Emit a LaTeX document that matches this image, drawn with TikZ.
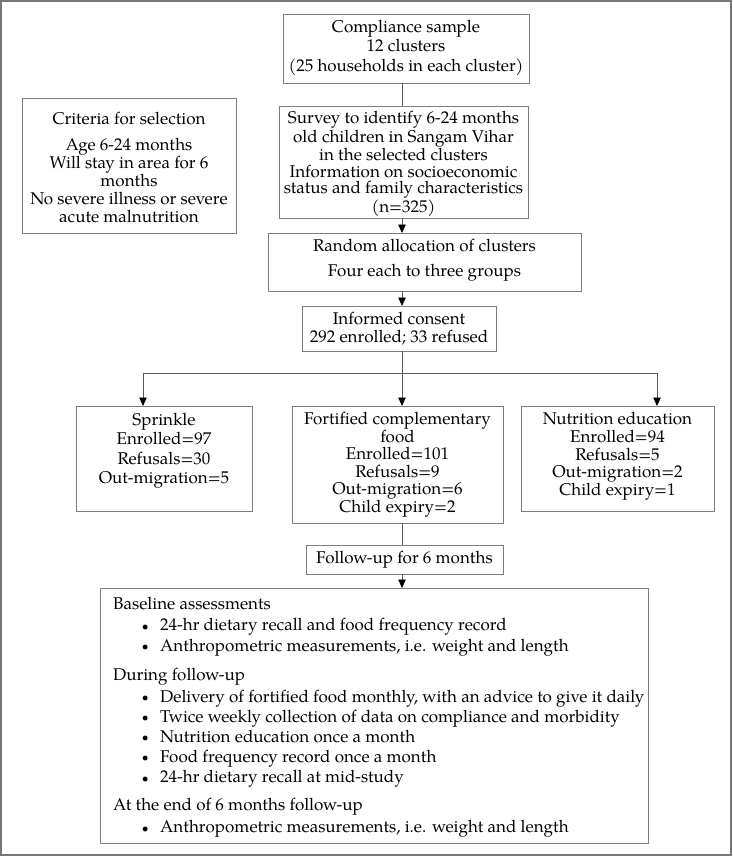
\documentclass[tikz,border=0pt]{standalone}
\usepackage{fontspec}
\setmainfont{TeX Gyre Pagella}
\usetikzlibrary{arrows.meta}
\definecolor{boxgray}{RGB}{125,125,125}
\definecolor{linegray}{RGB}{90,90,90}
\definecolor{framegray}{RGB}{120,120,120}
\begin{document}
\begin{tikzpicture}[x=1pt,y=-1pt,
  box/.style={draw=boxgray, line width=0.9pt, inner sep=0pt, outer sep=0pt, anchor=north west},
  txt/.style={align=center, inner sep=0pt},
  conn/.style={draw=linegray, line width=0.8pt},
  arr/.style={conn, -{Triangle[width=7.5pt,length=8.5pt,color=black,fill=black]}},
  lt/.style={inner sep=0pt, anchor=base west, font=\fontsize{17}{20}\selectfont}]
\useasboundingbox (0,0) rectangle (732,856);
\draw[framegray, line width=1.6pt] (0.8,0.8) rectangle (730.8,855.2);

% boxes
\node[box, minimum width=246, minimum height=69] (comp) at (283,14) {};
\node[box, minimum width=249, minimum height=112] (surv) at (279,106) {};
\node[box, minimum width=214, minimum height=135] (crit) at (22,98) {};
\node[box, minimum width=313, minimum height=58] (rand) at (268,233) {};
\node[box, minimum width=194, minimum height=45] (cons) at (302,306) {};
\node[box, minimum width=176, minimum height=105] (sprink) at (76,406) {};
\node[box, minimum width=211, minimum height=117] (fort) at (292,406) {};
\node[box, minimum width=193, minimum height=105] (nutr) at (521,406) {};
\node[box, minimum width=197, minimum height=29] (foll) at (306,545) {};
\node[box, minimum width=548, minimum height=255] (big) at (100,588) {};

% texts
\node[txt, font=\fontsize{17}{19.5}\selectfont] (compT) at (406,47.5)
  {Compliance sample\\12 clusters\\(25 households in each cluster)};
\node[txt, font=\fontsize{17}{16.8}\selectfont] (survT) at (403.5,164)
  {Survey to identify 6-24 months\\old children in Sangam Vihar\\in the selected clusters\\Information on socioeconomic\\status and family characteristics\\(n=325)};
\node[txt, font=\fontsize{17}{18}\selectfont] (critH) at (129,118) {Criteria for selection};
\node[txt, font=\fontsize{17}{18}\selectfont] (critT) at (129,180)
  {Age 6-24 months\\Will stay in area for 6\\months\\No severe illness or severe\\acute malnutrition};
\node[txt, font=\fontsize{17}{25}\selectfont] (randT) at (424.5,260.5)
  {Random allocation of clusters\\Four each to three groups};
\node[txt, font=\fontsize{17}{17.5}\selectfont] (consT) at (399,328.5)
  {Informed consent\\292 enrolled; 33 refused};
\node[txt, font=\fontsize{17}{19.5}\selectfont] (sprT) at (164,450.5)
  {Sprinkle\\Enrolled=97\\Refusals=30\\Out-migration=5};
\node[txt, font=\fontsize{17}{17.5}\selectfont] (fortT) at (397.5,464.5)
  {Fortified complementary\\food\\Enrolled=101\\Refusals=9\\Out-migration=6\\Child expiry=2};
\node[txt, font=\fontsize{17}{17.7}\selectfont] (nutrT) at (617.5,456.5)
  {Nutrition education\\Enrolled=94\\Refusals=5\\Out-migration=2\\Child expiry=1};
\node[txt, font=\fontsize{17}{17}\selectfont] (follT) at (404.5,559.5) {Follow-up for 6 months};

% big box lines
\newcommand{\blt}{\makebox[0pt][c]{\raisebox{0.5pt}{\fontsize{12}{12}\selectfont\textbullet}}\hspace{15pt}}
\node[lt] (b1) at (113,609) {Baseline assessments};
\node[lt] (b2) at (145,630.5) {\blt 24-hr dietary recall and food frequency record};
\node[lt] (b3) at (145,651) {\blt Anthropometric measurements, i.e. weight and length};
\node[lt] (b4) at (113,680.5) {During follow-up};
\node[lt] (b5) at (145,702) {\blt Delivery of fortified food monthly, with an advice to give it daily};
\node[lt] (b6) at (145,722) {\blt Twice weekly collection of data on compliance and morbidity};
\node[lt] (b7) at (145,742) {\blt Nutrition education once a month};
\node[lt] (b8) at (145,762) {\blt Food frequency record once a month};
\node[lt] (b9) at (145,782.5) {\blt 24-hr dietary recall at mid-study};
\node[lt] (b10) at (113,810) {At the end of 6 months follow-up};
\node[lt] (b11) at (145,832.5) {\blt Anthropometric measurements, i.e. weight and length};

% connectors
\coordinate (spine) at (402,0);
\coordinate (hs) at (402,373);
\coordinate (hl) at (143,373);
\coordinate (hr) at (657,373);
\draw[conn] (spine |- comp.south) -- (spine |- surv.north);
\draw[arr] (spine |- surv.south) -- (spine |- rand.north);
\draw[arr] (spine |- rand.south) -- (spine |- cons.north);
\draw[conn] (spine |- cons.south) -- (hs);
\draw[conn] (hl) -- (hr);
\draw[arr] (hl) -- (hl |- sprink.north);
\draw[arr] (hs) -- (hs |- fort.north);
\draw[arr] (hr) -- (hr |- nutr.north);
\draw[conn] (spine |- fort.south) -- (spine |- foll.north);
\draw[arr] (spine |- foll.south) -- (spine |- big.north);
\end{tikzpicture}
\end{document}
